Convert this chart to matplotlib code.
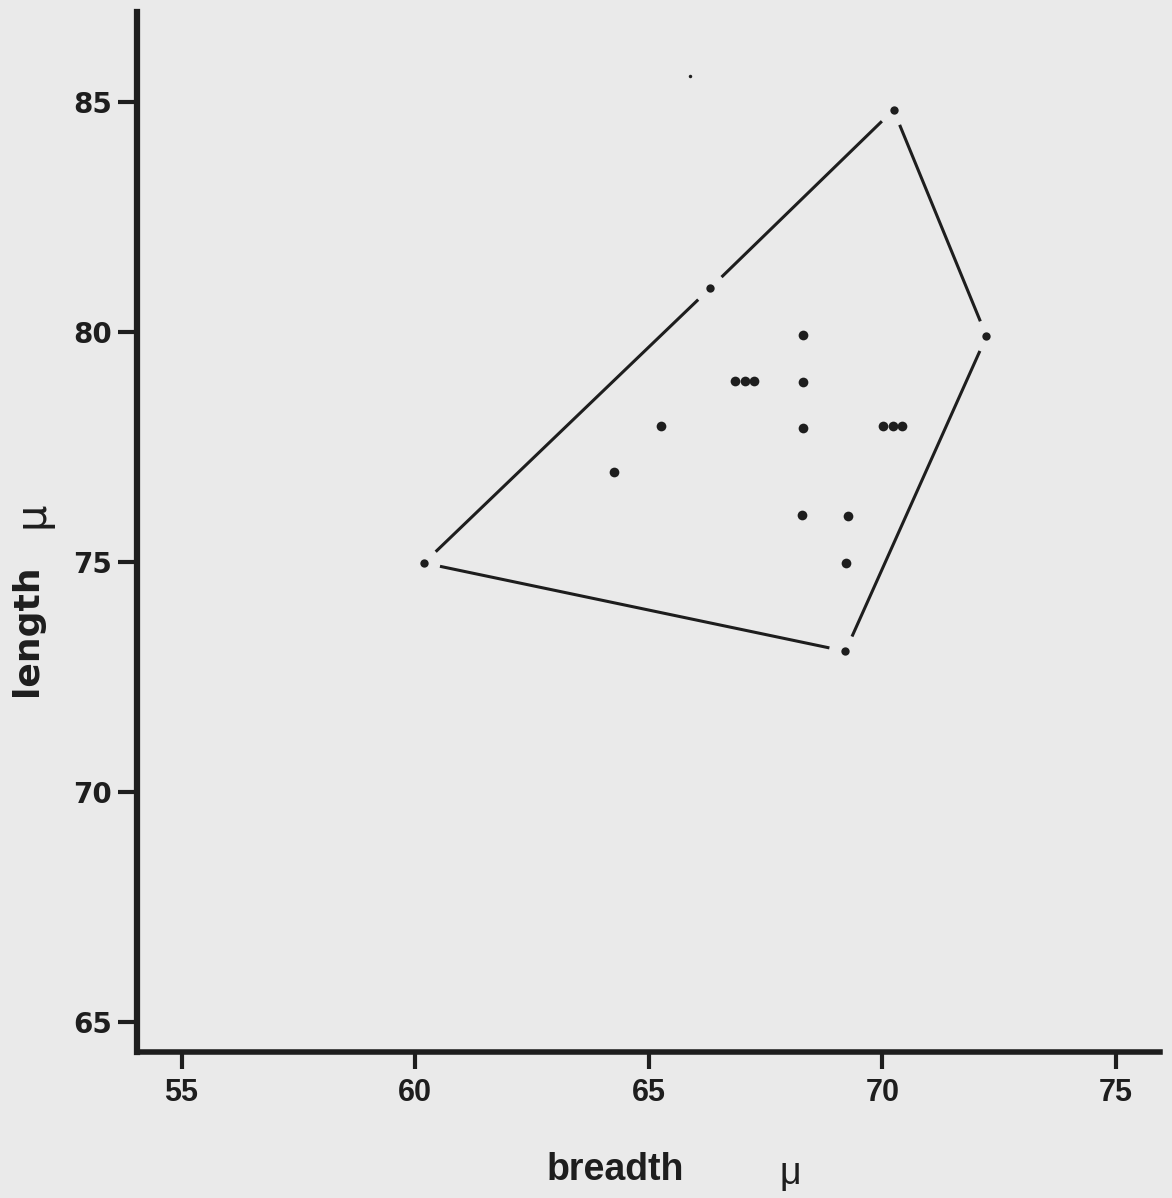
import matplotlib.pyplot as plt
import numpy as np

# points (breadth, length in micrometres)
hull_x = [60.19, 66.31, 70.24, 72.23, 69.21]
hull_y = [74.98, 80.95, 84.83, 79.91, 73.06]

pts_x = [68.30, 66.85, 67.06, 67.26, 68.30, 65.26, 68.30, 70.02, 70.23, 70.43,
         64.25, 68.28, 69.26, 69.22]
pts_y = [79.93, 78.94, 78.94, 78.94, 78.91, 77.96, 77.92, 77.96, 77.96, 77.96,
         76.95, 76.02, 76.00, 74.97]

speck_x = [65.89]
speck_y = [85.57]

xticks = [55, 60, 65, 70, 75]
yticks = [65, 70, 75, 80, 85]

bg = '#eaeaea'
ink = '#1e1e1e'

fig = plt.figure(figsize=(11.72, 11.98), dpi=100, facecolor=bg)
ax = fig.add_axes([0.117, 0.122, 0.873, 0.868])
ax.set_facecolor(bg)

# hull edges, hand drawn with small gaps at the dots
n = len(hull_x)
for i in range(n):
    x0, y0 = hull_x[i], hull_y[i]
    x1, y1 = hull_x[(i + 1) % n], hull_y[(i + 1) % n]
    d = np.hypot(x1 - x0, y1 - y0)
    g = 0.35 / d
    ax.plot([x0 + (x1 - x0) * g, x1 - (x1 - x0) * g],
            [y0 + (y1 - y0) * g, y1 - (y1 - y0) * g],
            color=ink, lw=2.2, solid_capstyle='butt')

ax.plot(hull_x, hull_y, 'o', color=ink, ms=6, mew=0)
ax.plot(pts_x, pts_y, 'o', color=ink, ms=7, mew=0)
ax.plot(speck_x, speck_y, 'o', color=ink, ms=2.5, mew=0)

ax.set_xlim(54.05, 75.95)
ax.set_ylim(64.35, 86.96)

for s in ['top', 'right']:
    ax.spines[s].set_visible(False)
ax.spines['left'].set_linewidth(4.5)
ax.spines['bottom'].set_linewidth(4)
ax.spines['left'].set_color(ink)
ax.spines['bottom'].set_color(ink)

ax.set_xticks(xticks)
ax.set_yticks(yticks)
ax.tick_params(axis='y', direction='out', length=14, width=3, color=ink, pad=4)
ax.tick_params(axis='x', direction='out', length=12, width=3, color=ink, pad=7)

ax.set_yticklabels([str(v) for v in yticks], fontsize=20, fontweight='bold',
                   family=['DejaVu Sans'], color=ink)
ax.set_xticklabels([str(v) for v in xticks], fontsize=22, fontweight='bold',
                   family=['Liberation Sans'], color=ink)

fig.text(0.023, 0.474, 'length', rotation=90, ha='center', va='center',
         fontsize=26, fontweight='bold', family=['DejaVu Sans'], color=ink)
fig.text(0.027, 0.570, '\u03bc', rotation=90, ha='center', va='center',
         fontsize=30, family=['DejaVu Sans'], color=ink)
fig.text(0.525, 0.023, 'breadth', ha='center', va='center', fontsize=27,
         fontweight='bold', family=['Liberation Sans'], color=ink)
fig.text(0.674, 0.020, '\u03bc', ha='center', va='center', fontsize=27,
         family=['Liberation Sans', 'DejaVu Sans'], color=ink)

fig.savefig('out.png', dpi=100, facecolor=bg)
